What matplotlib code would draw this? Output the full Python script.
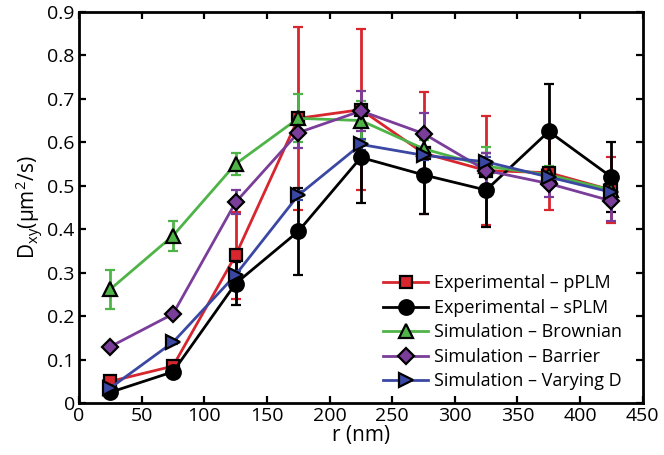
import matplotlib
matplotlib.use("Agg")
import matplotlib.pyplot as plt

plt.rcParams['font.family'] = ['Open Sans', 'DejaVu Sans']

r_nm = [25, 75, 125, 175, 225, 275, 325, 375, 425]

# Experimental - pPLM
ppl_mean = [0.050, 0.085, 0.340, 0.655, 0.675, 0.575, 0.535, 0.530, 0.490]
ppl_err = [0.008, 0.010, 0.100, 0.210, 0.185, 0.140, 0.125, 0.085, 0.075]

# Experimental - sPLM
spl_mean = [0.025, 0.072, 0.275, 0.395, 0.565, 0.525, 0.490, 0.625, 0.520]
spl_err = [0.006, 0.008, 0.050, 0.100, 0.105, 0.090, 0.085, 0.110, 0.080]

# Simulation - Brownian
brw_mean = [0.262, 0.385, 0.550, 0.655, 0.650, 0.585, 0.545, 0.525, 0.490]
brw_err = [0.045, 0.035, 0.025, 0.055, 0.045, 0.020, 0.045, 0.020, 0.035]

# Simulation - Barrier
bar_mean = [0.130, 0.205, 0.462, 0.622, 0.672, 0.620, 0.535, 0.505, 0.465]
bar_err = [0.005, 0.008, 0.028, 0.036, 0.045, 0.048, 0.040, 0.030, 0.045]

# Simulation - Varying D
var_mean = [0.035, 0.140, 0.295, 0.478, 0.595, 0.570, 0.555, 0.520, 0.485]
var_err = [0.003, 0.005, 0.008, 0.010, 0.012, 0.010, 0.010, 0.010, 0.010]

series = [
    ("Experimental \u2013 pPLM", ppl_mean, ppl_err, "#d7262e", "s", 8.5),
    ("Experimental \u2013 sPLM", spl_mean, spl_err, "#000000", "o", 10.5),
    ("Simulation \u2013 Brownian", brw_mean, brw_err, "#4fb447", "^", 10.5),
    ("Simulation \u2013 Barrier", bar_mean, bar_err, "#7a3d99", "D", 8.5),
    ("Simulation \u2013 Varying D", var_mean, var_err, "#3b48a3", ">", 10.5),
]

fig = plt.figure(figsize=(6.64, 4.55), dpi=100)
ax = fig.add_axes([0.119, 0.114, 0.849, 0.860])

handles = []
for label, mean, err, color, marker, ms in series:
    cont = ax.errorbar(r_nm, mean, yerr=err, color=color, lw=2, elinewidth=2,
                       capsize=3.5, capthick=2, marker=marker, markersize=ms,
                       markerfacecolor=color, markeredgecolor="black",
                       markeredgewidth=1.6, label=label)
    handles.append(cont[0])

ax.set_xlim(0, 450)
ax.set_ylim(0, 0.9)
ax.set_xticks(range(0, 451, 50))
ax.set_yticks([0, 0.1, 0.2, 0.3, 0.4, 0.5, 0.6, 0.7, 0.8, 0.9])
ax.set_yticklabels(["0", "0.1", "0.2", "0.3", "0.4", "0.5", "0.6", "0.7", "0.8", "0.9"])
ax.tick_params(direction="in", top=True, right=True, width=1.6, length=5,
               labelsize=14, pad=3)
for sp in ax.spines.values():
    sp.set_linewidth(2)

ax.set_xlabel("r (nm)", fontsize=15, labelpad=0)
ax.set_ylabel(r"D$_{\mathregular{xy}}$($\mathregular{\mu}$m$^{\mathregular{2}}$/s)",
              fontsize=15, labelpad=2)

ax.legend(handles, [s[0] for s in series], loc="lower right", frameon=False,
          fontsize=13, handlelength=2.5, handletextpad=0.3, labelspacing=0.36,
          borderaxespad=0.3, bbox_to_anchor=(0.985, 0.0))

fig.savefig("out.png", dpi=100)
